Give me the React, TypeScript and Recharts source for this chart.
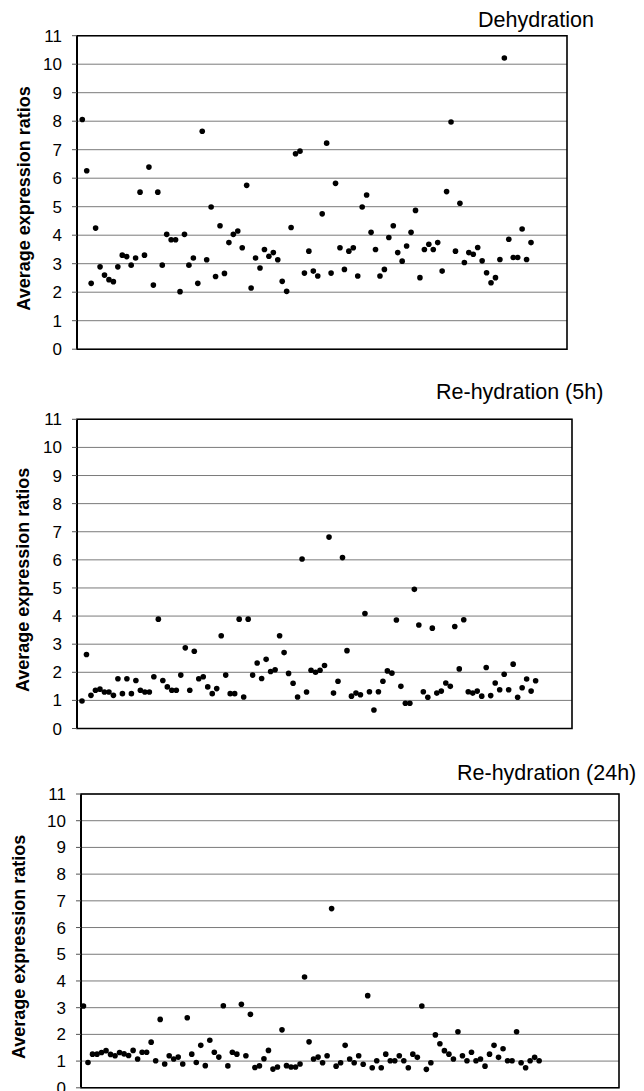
import React from 'react';
import { ScatterChart, Scatter, XAxis, YAxis, CartesianGrid, ReferenceArea } from 'recharts';

// ---- data ----
const yTicks = [0, 1, 2, 3, 4, 5, 6, 7, 8, 9, 10, 11];
const yLabel = 'Average expression ratios';
const titles = ['Dehydration', 'Re-hydration (5h)', 'Re-hydration (24h)'];

const dehydration = [
  8.06, 6.26, 2.31, 4.25, 2.89, 2.6, 2.44, 2.37, 2.89, 3.3,
  3.25, 2.95, 3.2, 5.51, 3.3, 6.39, 2.25, 5.51, 2.95, 4.03,
  3.84, 3.84, 2.02, 4.03, 2.95, 3.2, 2.31, 7.65, 3.14, 4.99,
  2.55, 4.33, 2.66, 3.74, 4.03, 4.15, 3.56, 5.75, 2.15, 3.2,
  2.85, 3.5, 3.26, 3.39, 3.14, 2.38, 2.03, 4.27, 6.86, 6.95,
  2.67, 3.44, 2.74, 2.57, 4.75, 7.23, 2.67, 5.82, 3.56, 2.8,
  3.44, 3.56, 2.57, 4.99, 5.41, 4.1, 3.5, 2.57, 2.8, 3.92,
  4.33, 3.39, 3.09, 3.62, 4.1, 4.87, 2.51, 3.5, 3.68, 3.5,
  3.74, 2.74, 5.53, 7.97, 3.44, 5.12, 3.04, 3.39, 3.33, 3.57,
  3.1, 2.68, 2.33, 2.51, 3.15, 10.22, 3.86, 3.22, 3.22, 4.22,
  3.15, 3.74,
];

const rehydration5h = [
  0.98, 2.63, 1.18, 1.36, 1.4, 1.3, 1.3, 1.18, 1.77, 1.24,
  1.77, 1.24, 1.71, 1.36, 1.3, 1.3, 1.84, 3.89, 1.71, 1.48,
  1.36, 1.36, 1.9, 2.87, 1.36, 2.75, 1.77, 1.84, 1.48, 1.24,
  1.42, 3.3, 1.9, 1.24, 1.24, 3.89, 1.12, 3.89, 1.9, 2.33,
  1.78, 2.46, 2.03, 2.09, 3.3, 2.7, 1.96, 1.61, 1.12, 6.03,
  1.3, 2.07, 2.0, 2.07, 2.24, 6.81, 1.26, 1.68, 6.08, 2.77,
  1.15, 1.26, 1.2, 4.09, 1.31, 0.66, 1.31, 1.68, 2.05, 1.97,
  3.86, 1.5, 0.9, 0.9, 4.95, 3.68, 1.31, 1.11, 3.57, 1.26,
  1.33, 1.62, 1.5, 3.63, 2.12, 3.87, 1.31, 1.26, 1.33, 1.15,
  2.17, 1.17, 1.62, 1.38, 1.93, 1.38, 2.29, 1.11, 1.45, 1.76,
  1.33, 1.7,
];

const rehydration24h = [
  3.06, 0.95, 1.26, 1.26, 1.32, 1.39, 1.25, 1.2, 1.32, 1.27,
  1.21, 1.4, 1.08, 1.33, 1.33, 1.71, 1.01, 2.56, 0.89, 1.2,
  1.08, 1.15, 0.89, 2.62, 1.26, 0.95, 1.59, 0.83, 1.78, 1.33,
  1.15, 3.07, 0.82, 1.33, 1.26, 3.13, 1.2, 2.75, 0.76, 0.82,
  1.09, 1.4, 0.7, 0.78, 2.17, 0.83, 0.78, 0.78, 0.89, 4.15,
  1.72, 1.08, 1.15, 0.94, 1.2, 6.71, 0.81, 0.94, 1.59, 1.08,
  0.94, 1.2, 0.88, 3.45, 0.75, 1.01, 0.75, 1.26, 1.01, 1.01,
  1.2, 1.01, 0.75, 1.26, 1.14, 3.06, 0.69, 0.94, 1.98, 1.65,
  1.39, 1.26, 1.08, 2.1, 1.2, 1.01, 1.33, 1.01, 1.08, 0.81,
  1.26, 1.59, 1.14, 1.46, 1.01, 1.01, 2.1, 0.94, 0.75, 1.01,
  1.14, 1.01,
];

const seriesList = [dehydration, rehydration5h, rehydration24h];

// ---- layout ----
const FONT = '"Liberation Sans", Arial, Helvetica, sans-serif';

interface PanelLayout {
  top: number;
  height: number;
  plotLeft: number;
  plotTop: number;
  plotRight: number;
  plotBottom: number;
  xDomain: [number, number];
  titleX: number;
  titleY: number;
  labelX: number;
}

const layouts: PanelLayout[] = [
  { top: 0, height: 360, plotLeft: 77, plotTop: 35.7, plotRight: 567, plotBottom: 349.2, xDomain: [-0.19, 110.1], titleX: 478, titleY: 27, labelX: 24.5 },
  { top: 360, height: 380, plotLeft: 77, plotTop: 419.3, plotRight: 572, plotBottom: 728.5, xDomain: [-0.11, 110.1], titleX: 436, titleY: 399, labelX: 23.5 },
  { top: 740, height: 351, plotLeft: 81, plotTop: 794, plotRight: 619, plotBottom: 1087.8, xDomain: [0.45, 119.7], titleX: 457, titleY: 780, labelX: 19.5 },
];

const Dot = (props: any) => {
  const { cx, cy } = props;
  if (cx == null || cy == null) return null;
  return <circle cx={cx} cy={cy} r={2.8} fill="#000" />;
};

function Panel({ layout, values }: { layout: PanelLayout; values: number[] }) {
  const data = values.map((v, i) => ({ gene: i + 1, ratio: v }));
  const margin = {
    top: layout.plotTop - layout.top,
    bottom: layout.top + layout.height - layout.plotBottom,
    left: 0,
    right: 644 - layout.plotRight,
  };
  return (
    <div style={{ position: 'absolute', left: 0, top: layout.top, width: 644, height: layout.height }}>
      <ScatterChart width={644} height={layout.height} margin={margin}>
        <CartesianGrid vertical={false} stroke="#7a7a7a" strokeWidth={1} />
        <XAxis
          dataKey="gene"
          type="number"
          domain={layout.xDomain}
          allowDataOverflow
          height={0}
          tick={false}
          tickLine={false}
          axisLine={false}
        />
        <YAxis
          dataKey="ratio"
          type="number"
          domain={[0, 11]}
          ticks={yTicks}
          interval={0}
          allowDataOverflow
          width={layout.plotLeft}
          tickSize={5}
          tickMargin={10}
          tickLine={{ stroke: '#555' }}
          axisLine={{ stroke: '#000', strokeWidth: 2 }}
          tick={{ fontSize: 17, fill: '#000', fontFamily: FONT }}
        />
        <ReferenceArea
          x1={layout.xDomain[0]}
          x2={layout.xDomain[1]}
          y1={0}
          y2={11}
          fill="none"
          fillOpacity={0}
          stroke="#000"
          strokeWidth={1.6}
          ifOverflow="visible"
        />
        <Scatter data={data} shape={Dot} isAnimationActive={false} />
      </ScatterChart>
    </div>
  );
}

export default function App() {
  return (
    <div style={{ position: 'absolute', left: 0, top: 0, width: 644, height: 1091, background: '#fff', fontFamily: FONT }}>
      {layouts.map((l, i) => (
        <Panel key={i} layout={l} values={seriesList[i]} />
      ))}
      <svg width={644} height={1091} style={{ position: 'absolute', left: 0, top: 0, pointerEvents: 'none' }}>
        {layouts.map((l, i) => {
          const cy = (l.plotTop + l.plotBottom) / 2 + 6;
          return (
            <g key={i}>
              <text x={l.titleX} y={l.titleY} fontSize={21.5} fontFamily={FONT} fill="#000">
                {titles[i]}
              </text>
              <text
                x={l.labelX}
                y={cy}
                fontSize={18}
                fontWeight="bold"
                fontFamily={FONT}
                fill="#000"
                textAnchor="middle"
                dominantBaseline="central"
                transform={`rotate(-90 ${l.labelX} ${cy})`}
              >
                {yLabel}
              </text>
            </g>
          );
        })}
      </svg>
    </div>
  );
}
